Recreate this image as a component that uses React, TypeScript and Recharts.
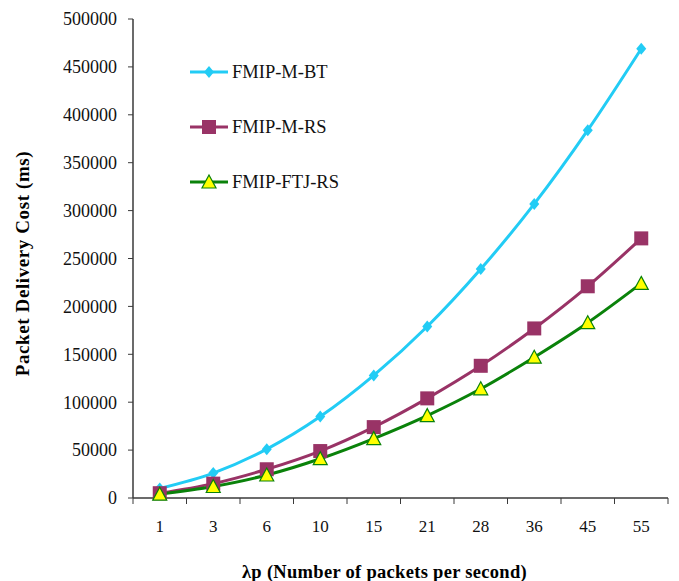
import React from 'react';
import { LineChart, Line, XAxis, YAxis } from 'recharts';

const categories = ['1', '3', '6', '10', '15', '21', '28', '36', '45', '55'];
const fmipMBT = [10000, 26000, 51000, 85000, 128000, 179000, 239000, 307000, 384000, 469000];
const fmipMRS = [5000, 15000, 30000, 49000, 74000, 104000, 138000, 177000, 221000, 271000];
const fmipFTJRS = [4000, 12000, 24000, 41000, 62000, 86000, 114000, 147000, 183000, 224000];
const yTicks = [0, 50000, 100000, 150000, 200000, 250000, 300000, 350000, 400000, 450000, 500000];

const data = categories.map((c, i) => ({
  lambda: c,
  bt: fmipMBT[i],
  rs: fmipMRS[i],
  ftj: fmipFTJRS[i],
}));

const FONT = '"Liberation Serif", "Times New Roman", serif';
const CYAN = '#22CCF5';
const MAROON = '#993366';
const GREEN = '#0A820A';
const YELLOW = '#FFFF00';
const AXIS = '#3a3a3a';

const Diamond = ({ cx, cy }: any) => (
  <path d={`M${cx},${cy - 6} L${cx + 5},${cy} L${cx},${cy + 6} L${cx - 5},${cy} Z`} fill={CYAN} />
);
const Square = ({ cx, cy }: any) => (
  <rect x={cx - 7} y={cy - 7} width={14} height={14} fill={MAROON} />
);
const Triangle = ({ cx, cy }: any) => (
  <path d={`M${cx},${cy - 7} L${cx + 7},${cy + 6} L${cx - 7},${cy + 6} Z`} fill={YELLOW} stroke={GREEN} strokeWidth={1.2} />
);

const PLOT_W = 535;
const BAND = PLOT_W / categories.length;

// category ticks sit on the band edges, labels in the middle
const XTick = ({ x, y, payload, index }: any) => (
  <g>
    <line x1={x - BAND / 2} y1={y - 8} x2={x - BAND / 2} y2={y - 2} stroke={AXIS} strokeWidth={1} />
    {index === categories.length - 1 && (
      <line x1={x + BAND / 2} y1={y - 8} x2={x + BAND / 2} y2={y - 2} stroke={AXIS} strokeWidth={1} />
    )}
    <text x={x} y={y + 26} textAnchor="middle" fontFamily={FONT} fontSize={17} fill="#111">
      {payload.value}
    </text>
  </g>
);

const legendItems = [
  { name: 'FMIP-M-BT', color: CYAN, Icon: Diamond },
  { name: 'FMIP-M-RS', color: MAROON, Icon: Square },
  { name: 'FMIP-FTJ-RS', color: GREEN, Icon: Triangle },
];

export default function App() {
  return (
    <div style={{ position: 'absolute', left: 0, top: 0, width: 679, height: 581, background: '#fff' }}>
      <LineChart width={679} height={581} data={data} margin={{ top: 19, right: 11, bottom: 0, left: 0 }}>
        <XAxis
          dataKey="lambda"
          tick={<XTick />}
          tickLine={false}
          axisLine={{ stroke: AXIS, strokeWidth: 1.5 }}
          interval={0}
          height={83}
          padding={{ left: BAND / 2, right: BAND / 2 }}
          label={{
            value: 'λp (Number of packets per second)',
            position: 'insideBottom',
            offset: 3,
            dx: -16,
            style: { fontFamily: FONT, fontSize: 18.5, fontWeight: 'bold', fill: '#000', letterSpacing: 0.3 },
          }}
        />
        <YAxis
          domain={[0, 500000]}
          ticks={yTicks}
          width={133}
          interval={0}
          tickSize={5}
          tickMargin={11}
          tickLine={{ stroke: AXIS }}
          axisLine={{ stroke: AXIS, strokeWidth: 1.5 }}
          tick={{ fontFamily: FONT, fontSize: 18, fill: '#111' }}
          label={{
            value: 'Packet Delivery Cost (ms)',
            angle: -90,
            position: 'insideLeft',
            offset: 22,
            dy: 5,
            style: { textAnchor: 'middle', fontFamily: FONT, fontSize: 19, fontWeight: 'bold', fill: '#000', letterSpacing: 0.6 },
          }}
        />
        <Line type="monotone" dataKey="bt" name="FMIP-M-BT" stroke={CYAN} strokeWidth={3} dot={<Diamond />} isAnimationActive={false} />
        <Line type="monotone" dataKey="rs" name="FMIP-M-RS" stroke={MAROON} strokeWidth={3} dot={<Square />} isAnimationActive={false} />
        <Line type="monotone" dataKey="ftj" name="FMIP-FTJ-RS" stroke={GREEN} strokeWidth={3} dot={<Triangle />} isAnimationActive={false} />
      </LineChart>
      <div style={{ position: 'absolute', left: 190, top: 44.5 }}>
        {legendItems.map(({ name, color, Icon }) => (
          <div key={name} style={{ display: 'flex', alignItems: 'center', height: 55 }}>
            <svg width={39} height={20}>
              <line x1={0} y1={10} x2={38} y2={10} stroke={color} strokeWidth={3} />
              <Icon cx={19} cy={10} />
            </svg>
            <span style={{ fontFamily: FONT, fontSize: 18.5, color: '#111', marginLeft: 3 }}>{name}</span>
          </div>
        ))}
      </div>
    </div>
  );
}
